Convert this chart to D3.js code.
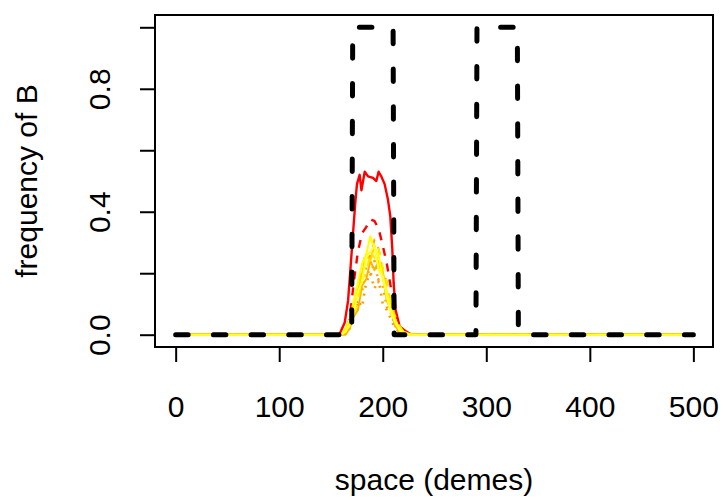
<!DOCTYPE html>
<html>
<head>
<meta charset="utf-8">
<script src="https://cdn.jsdelivr.net/npm/d3@7"></script>
<style>
  body { margin: 0; background: #fff; }
  text { font-family: "Liberation Sans", Arial, Helvetica, sans-serif; }
</style>
</head>
<body>
<div id="chart"></div>
<script>
// ---- Data ----
const xTicks = [0, 100, 200, 300, 400, 500];
const yTicks = [0, 0.2, 0.4, 0.6, 0.8, 1.0];
const yLabelled = [0, 0.4, 0.8];

// shared demes for the cline replicates
const demes = [0, 160, 164, 168, 172, 176, 180, 184, 188, 192, 196, 200, 204, 208, 212, 216, 220, 224, 228, 500];

const redSolidDemes = [0, 158, 163.3, 166.5, 168.5, 171.3, 173.5, 175.1, 177.7, 179.4, 182.6, 185.8, 190.6, 193.8, 196, 198.6, 201.8, 205, 207.3, 209.2, 210.5, 212.4, 216.3, 222.7, 228, 500];
const redSolidFreq  = [0, 0, 0.04, 0.11, 0.2, 0.33, 0.43, 0.49, 0.52, 0.47, 0.53, 0.515, 0.51, 0.5, 0.53, 0.515, 0.49, 0.44, 0.385, 0.28, 0.17, 0.08, 0.027, 0.01, 0, 0];

const redDashFreq   = [0, 0, 0.01, 0.05, 0.17, 0.27, 0.33, 0.35, 0.375, 0.37, 0.345, 0.29, 0.23, 0.15, 0.07, 0.02, 0.005, 0, 0, 0];
const orangeDashFreq = [0, 0, 0.01, 0.04, 0.09, 0.15, 0.22, 0.27, 0.25, 0.31, 0.28, 0.21, 0.17, 0.09, 0.05, 0.02, 0.01, 0, 0, 0];
const orangeDotFreq  = [0, 0, 0.005, 0.02, 0.06, 0.12, 0.14, 0.22, 0.19, 0.24, 0.17, 0.16, 0.09, 0.07, 0.03, 0.01, 0.005, 0, 0, 0];
const darkOrangeDotFreq = [0, 0, 0.01, 0.04, 0.05, 0.11, 0.09, 0.17, 0.20, 0.15, 0.18, 0.10, 0.08, 0.05, 0.02, 0.01, 0, 0, 0, 0];
const orangeSolidFreq = [0, 0, 0, 0.02, 0.06, 0.08, 0.16, 0.18, 0.24, 0.21, 0.24, 0.19, 0.11, 0.08, 0.03, 0.01, 0, 0, 0, 0];
const goldSolidFreq  = [0, 0, 0.01, 0.04, 0.09, 0.14, 0.20, 0.26, 0.24, 0.29, 0.22, 0.21, 0.13, 0.10, 0.05, 0.02, 0.01, 0, 0, 0];
const yellowDashFreq = [0, 0, 0.01, 0.03, 0.06, 0.11, 0.18, 0.20, 0.27, 0.25, 0.28, 0.22, 0.17, 0.10, 0.06, 0.03, 0.01, 0, 0, 0];
const yellowSolidFreq = [0, 0, 0.02, 0.05, 0.11, 0.17, 0.23, 0.26, 0.32, 0.28, 0.26, 0.18, 0.14, 0.08, 0.05, 0.02, 0.01, 0.005, 0, 0];
const yellowLastFreq = [0, 0, 0.01, 0.03, 0.07, 0.14, 0.17, 0.25, 0.27, 0.29, 0.21, 0.19, 0.12, 0.07, 0.04, 0.015, 0.005, 0, 0, 0];

// starting distribution (two blocks of B)
const startDemes = [0, 170, 171, 210, 211, 290, 291, 330, 331, 500];
const startFreq  = [0, 0, 1, 1, 0, 0, 1, 1, 0, 0];

// ---- Styles (drawing order) ----
const series = [
    { xs: redSolidDemes, ys: redSolidFreq,  color: "#ff0000", width: 2.4, dash: null },
    { xs: demes, ys: redDashFreq,       color: "#ff0000", width: 2.4, dash: "8,8" },
    { xs: demes, ys: orangeDashFreq,    color: "#ffa500", width: 2, dash: "8,8" },
    { xs: demes, ys: orangeDotFreq,     color: "#ffa500", width: 2.6, dash: "2,5" },
    { xs: demes, ys: darkOrangeDotFreq, color: "#ff9a00", width: 2.6, dash: "2,6" },
    { xs: demes, ys: orangeSolidFreq,   color: "#ffb300", width: 2, dash: null },
    { xs: demes, ys: goldSolidFreq,     color: "#ffd700", width: 2, dash: null },
    { xs: demes, ys: yellowDashFreq,    color: "#ffea00", width: 2, dash: "8,8" },
    { xs: demes, ys: yellowSolidFreq,   color: "#ffff00", width: 2, dash: null },
    { xs: demes, ys: yellowLastFreq,    color: "#ffff33", width: 2, dash: null }
];

// ---- Layout ----
const W = 723, H = 500;
const plot = { left: 155, right: 713, top: 15, bottom: 347 };
const fontSize = 30;

const svg = d3.select("#chart").append("svg")
    .attr("width", W)
    .attr("height", H);

// R style: 4% extension on both axes
const x = d3.scaleLinear()
    .domain([-19.96, 518.96])
    .range([plot.left, plot.right]);

const y = d3.scaleLinear()
    .domain([-0.04, 1.04])
    .range([plot.bottom, plot.top]);

const line = d3.line()
    .x(d => x(d[0]))
    .y(d => y(d[1]));

// ---- Lines ----
const lines = svg.append("g");

series.forEach(s => {
    lines.append("path")
        .datum(s.xs.map((v, i) => [v, s.ys[i]]))
        .attr("d", line)
        .attr("fill", "none")
        .attr("stroke", s.color)
        .attr("stroke-width", s.width)
        .attr("stroke-dasharray", s.dash)
        .attr("stroke-linejoin", "round");
});

// starting frequency on top
lines.append("path")
    .datum(startDemes.map((v, i) => [v, startFreq[i]]))
    .attr("d", line)
    .attr("fill", "none")
    .attr("stroke", "#000")
    .attr("stroke-width", 5)
    .attr("stroke-dasharray", "12.5,25.2")
    .attr("stroke-linecap", "round")
    .attr("stroke-linejoin", "round");

// ---- Box ----
svg.append("rect")
    .attr("x", plot.left)
    .attr("y", plot.top)
    .attr("width", plot.right - plot.left)
    .attr("height", plot.bottom - plot.top)
    .attr("fill", "none")
    .attr("stroke", "#000")
    .attr("stroke-width", 2);

// ---- Axes ----
const xAxis = svg.append("g")
    .attr("transform", `translate(0, ${plot.bottom})`)
    .call(d3.axisBottom(x).tickValues(xTicks).tickSize(15).tickPadding(34));

xAxis.select(".domain").remove();
xAxis.selectAll("line").attr("stroke-width", 2);
xAxis.selectAll("text")
    .attr("fill", "#000")
    .style("font-size", fontSize + "px")
    .style("font-family", "Liberation Sans, Arial, sans-serif");

const yAxis = svg.append("g")
    .attr("transform", `translate(${plot.left}, 0)`)
    .call(d3.axisLeft(y)
        .tickValues(yTicks)
        .tickSize(15)
        .tickFormat(d => yLabelled.includes(d) ? d3.format(".1f")(d) : ""));

yAxis.select(".domain").remove();
yAxis.selectAll("line").attr("stroke-width", 2);
yAxis.selectAll("text")
    .attr("fill", "#000")
    .attr("transform", "rotate(-90)")
    .attr("text-anchor", "middle")
    .attr("x", 0)
    .attr("y", -45)
    .attr("dy", null)
    .style("font-size", fontSize + "px")
    .style("font-family", "Liberation Sans, Arial, sans-serif");

// ---- Titles ----
svg.append("text")
    .attr("x", (plot.left + plot.right) / 2)
    .attr("y", 490)
    .attr("text-anchor", "middle")
    .style("font-size", fontSize + "px")
    .text("space (demes)");

svg.append("text")
    .attr("transform", `translate(37, ${(plot.top + plot.bottom) / 2}) rotate(-90)`)
    .attr("text-anchor", "middle")
    .style("font-size", fontSize + "px")
    .text("frequency of B");
</script>
</body>
</html>
